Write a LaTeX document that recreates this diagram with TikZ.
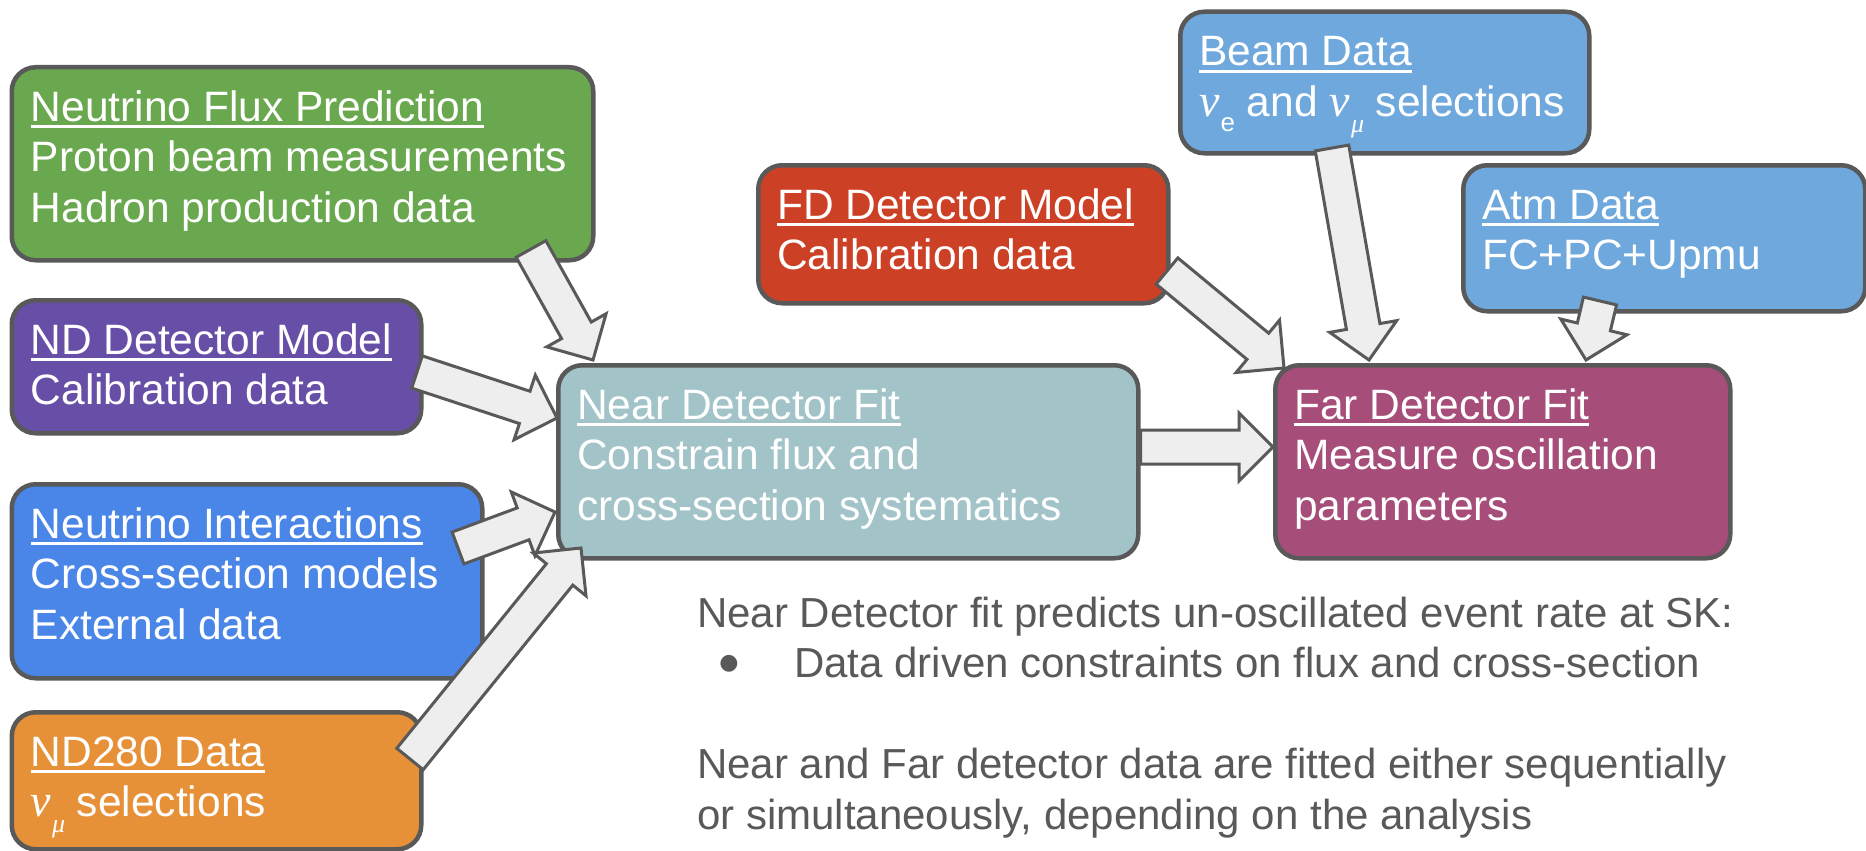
\documentclass[tikz,border=0pt]{standalone}
\usepackage{fontspec}
\setmainfont{Liberation Sans}
\newfontfamily\gk{Liberation Serif}
\newfontfamily\symf{DejaVu Sans}
\usetikzlibrary{calc}
\definecolor{cgreen}{HTML}{6AA84F}
\definecolor{cpurple}{HTML}{674EA7}
\definecolor{cblue}{HTML}{4A86E8}
\definecolor{corange}{HTML}{E69138}
\definecolor{cteal}{HTML}{A2C4C9}
\definecolor{cred}{HTML}{CC4125}
\definecolor{clight}{HTML}{6FA8DC}
\definecolor{cmag}{HTML}{A64D79}
\definecolor{bordc}{HTML}{595959}
\definecolor{arrfill}{HTML}{EEEEEE}
\definecolor{notec}{HTML}{595959}
\newcommand\myul[1]{\setbox0\hbox{#1}\rlap{\rule[-7pt]{\wd0}{2.8pt}}\box0}
\newcommand\nue{{\gk\itshape\fontsize{46}{46}\selectfont ν}\hspace{1pt}\raisebox{-15pt}{\fontsize{26}{26}\selectfont e}}
\newcommand\num{{\gk\itshape\fontsize{46}{46}\selectfont ν}\hspace{1pt}\raisebox{-16pt}{\gk\itshape\fontsize{26}{26}\selectfont μ}}
\newcommand\fatarr[2]{%
  \coordinate (fb) at ($(#2)!34pt!(#1)$);
  \draw[fatstyle] ($(#1)!17pt!90:(#2)$) -- ($(fb)!17pt!90:(#2)$) -- ($(fb)!34pt!90:(#2)$) -- (#2)
    -- ($(fb)!34pt!-90:(#2)$) -- ($(fb)!17pt!-90:(#2)$) -- ($(#1)!17pt!-90:(#2)$) -- cycle;
}
\tikzset{
  box/.style={draw=bordc, line width=4.5pt, rounded corners=24pt, anchor=north west, inner sep=0pt},
  txt/.style={text=white, align=left, font=\fontsize{42.5}{50.6}\selectfont, inner sep=0pt, anchor=base west},
  fatstyle/.style={draw=bordc, fill=arrfill, line width=3pt, line join=miter},
  note/.style={text=notec, font=\fontsize{42}{50}\selectfont, inner sep=0pt, anchor=base west}
}
\begin{document}
\begin{tikzpicture}[x=1pt,y=-1pt]
\useasboundingbox (0,0) rectangle (1866,851);
\fill[white] (0,0) rectangle (1866,851);
% boxes
\node[box, fill=cgreen, minimum width=581.5pt, minimum height=193pt] (green) at (9.5,65) {};
\node[box, fill=cpurple, minimum width=409.5pt, minimum height=133pt] (purple) at (9.5,298) {};
\node[box, fill=cblue, minimum width=470.5pt, minimum height=194pt] (ni) at (9.5,482) {};
\node[box, fill=corange, minimum width=409.5pt, minimum height=137pt] (orange) at (9.5,710) {};
\node[box, fill=cteal, minimum width=580pt, minimum height=193pt] (near) at (556,363) {};
\node[box, fill=cred, minimum width=410pt, minimum height=138pt] (red) at (756,163) {};
\node[box, fill=clight, minimum width=409pt, minimum height=141.5pt] (beam) at (1178,9.5) {};
\node[box, fill=clight, minimum width=402pt, minimum height=146pt] (atm) at (1461,163) {};
\node[box, fill=cmag, minimum width=455pt, minimum height=193pt] (far) at (1273,363) {};
% texts (base anchor = last line's baseline)
\node[txt] (green-t) at ([shift={(21,157.2)}]green.north west) {\myul{Neutrino Flux Prediction}\\Proton beam measurements\\Hadron production data};
\node[txt] (purple-t) at ([shift={(21,106.6)}]purple.north west) {\myul{ND Detector Model}\\Calibration data};
\node[txt] (ni-t) at ([shift={(21,157.2)}]ni.north west) {\myul{Neutrino Interactions}\\Cross-section models\\External data};
\node[txt] (orange-t) at ([shift={(21,106.6)}]orange.north west) {\myul{ND280 Data}\\\num\ selections};
\node[txt] (near-t) at ([shift={(21,157.2)}]near.north west) {\myul{Near Detector Fit}\\Constrain flux and\\cross-section systematics};
\node[txt] (red-t) at ([shift={(21,106.6)}]red.north west) {\myul{FD Detector Model}\\Calibration data};
\node[txt] (beam-t) at ([shift={(21,106.6)}]beam.north west) {\myul{Beam Data}\\\nue\ and \num\ selections};
\node[txt] (atm-t) at ([shift={(21,106.6)}]atm.north west) {\myul{Atm Data}\\FC+PC+Upmu};
\node[txt] (far-t) at ([shift={(21,157.2)}]far.north west) {\myul{Far Detector Fit}\\Measure oscillation\\parameters};
% arrows
\coordinate (g-tail) at (531,249);  \coordinate (g-tip) at (593,360);
\coordinate (p-tail) at (417,372);  \coordinate (p-tip) at (557,418);
\coordinate (n-tail) at (458,548);  \coordinate (n-tip) at (555,512);
\coordinate (o-tail) at (410,759);  \coordinate (o-tip) at (581,548);
\coordinate (nf-tail) at (near.east |- 0,447); \coordinate (nf-tip) at (far.west |- 0,447);
\coordinate (r-tail) at (1167,271); \coordinate (r-tip) at (1284,368);
\coordinate (b-tail) at (1332,148); \coordinate (b-tip) at (1369,360);
\coordinate (a-tail) at (1600,301); \coordinate (a-tip) at (1586,360);
\fatarr{g-tail}{g-tip}
\fatarr{p-tail}{p-tip}
\fatarr{n-tail}{n-tip}
\fatarr{o-tail}{o-tip}
\fatarr{nf-tail}{nf-tip}
\fatarr{r-tail}{r-tip}
\fatarr{b-tail}{b-tip}
\fatarr{a-tail}{a-tip}
% notes
\node[note] (n1) at (697,627) {Near Detector fit predicts un-oscillated event rate at SK:};
\node[note, anchor=center, font=\symf\fontsize{22}{22}\selectfont] (bul) at (729,664) {●};
\node[note] (n2) at (794,677) {Data driven constraints on flux and cross-section};
\node[note] (n3) at (697,778) {Near and Far detector data are fitted either sequentially};
\node[note] (n4) at (697,829) {or simultaneously, depending on the analysis};
\end{tikzpicture}
\end{document}
